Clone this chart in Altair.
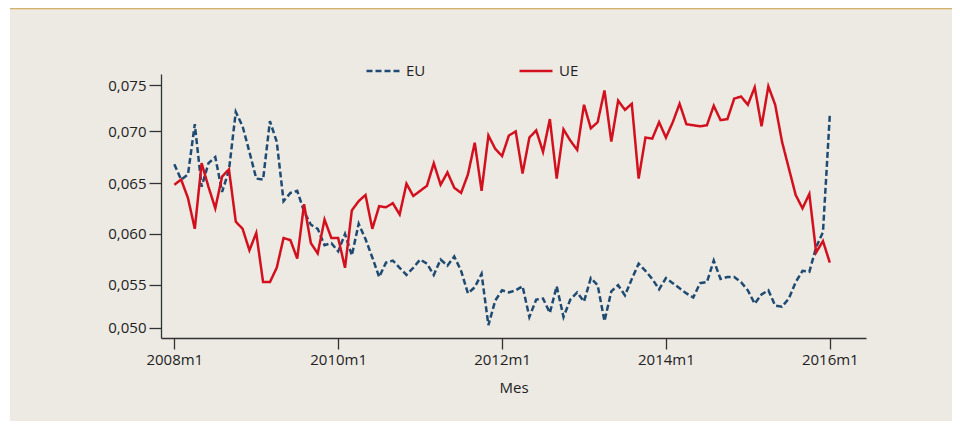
import altair as alt
import pandas as pd

# Monthly series, 2008m1 .. 2016m1 (97 months)
eu = [0.0668, 0.0653, 0.0658, 0.0707, 0.0646, 0.0669, 0.0675, 0.0641, 0.0662, 0.0719,
      0.0705, 0.0680, 0.0654, 0.0653, 0.0710, 0.0690, 0.0632, 0.0640, 0.0642, 0.0622,
      0.0609, 0.0605, 0.0589, 0.0591, 0.0583, 0.0600, 0.0579, 0.0610, 0.0595, 0.0577,
      0.0558, 0.0572, 0.0574, 0.0567, 0.0560, 0.0567, 0.0575, 0.0571, 0.0560, 0.0575,
      0.0569, 0.0578, 0.0564, 0.0542, 0.0548, 0.0561, 0.0511, 0.0535, 0.0545, 0.0543,
      0.0545, 0.0549, 0.0519, 0.0536, 0.0537, 0.0523, 0.0549, 0.0519, 0.0536, 0.0543,
      0.0534, 0.0557, 0.0550, 0.0515, 0.0544, 0.0550, 0.0540, 0.0556, 0.0571, 0.0564,
      0.0556, 0.0546, 0.0557, 0.0552, 0.0547, 0.0542, 0.0538, 0.0552, 0.0553, 0.0574,
      0.0556, 0.0558, 0.0558, 0.0553, 0.0545, 0.0532, 0.0541, 0.0545, 0.0530, 0.0529,
      0.0537, 0.0553, 0.0564, 0.0563, 0.0587, 0.0602, 0.0716]

ue = [0.0648, 0.0653, 0.0635, 0.0605, 0.0669, 0.0646, 0.0625, 0.0656, 0.0663, 0.0612,
      0.0605, 0.0584, 0.0601, 0.0553, 0.0553, 0.0567, 0.0596, 0.0594, 0.0576, 0.0629,
      0.0591, 0.0581, 0.0614, 0.0596, 0.0596, 0.0567, 0.0623, 0.0632, 0.0638, 0.0605,
      0.0627, 0.0626, 0.0630, 0.0619, 0.0649, 0.0637, 0.0642, 0.0647, 0.0669, 0.0648,
      0.0660, 0.0645, 0.0640, 0.0658, 0.0689, 0.0642, 0.0696, 0.0683, 0.0676, 0.0696,
      0.0700, 0.0659, 0.0694, 0.0701, 0.0680, 0.0712, 0.0654, 0.0702, 0.0691, 0.0682,
      0.0726, 0.0703, 0.0709, 0.0740, 0.0690, 0.0730, 0.0721, 0.0727, 0.0654, 0.0694,
      0.0693, 0.0709, 0.0694, 0.0709, 0.0727, 0.0707, 0.0706, 0.0705, 0.0706, 0.0725,
      0.0711, 0.0712, 0.0732, 0.0734, 0.0726, 0.0743, 0.0705, 0.0744, 0.0726, 0.0690,
      0.0664, 0.0638, 0.0625, 0.0639, 0.0582, 0.0593, 0.0572]

series_names = ["EU", "UE"]
x_tick_months = [0, 24, 48, 72, 96]
y_tick_values = [0.05086, 0.05502, 0.0600, 0.06494, 0.07004, 0.07452]

BLUE = "#1f4b73"
RED = "#d3101d"
BEIGE = "#edeae4"
GOLD = "#d2b16e"
FONT = "Open Sans"

rows = []
for i, v in enumerate(eu):
    rows.append({"t": i, "v": v, "serie": "EU"})
for i, v in enumerate(ue):
    rows.append({"t": i, "v": v, "serie": "UE"})
df = pd.DataFrame(rows)

W, H = 705, 264
PL, PT, PR, PB = 153, 66, 86, 83

leg = alt.Legend(
    title=None, orient="none", legendX=204, legendY=-21, direction="horizontal",
    symbolType="stroke", symbolSize=1089, symbolStrokeWidth=2.5,
    labelFont=FONT, labelFontSize=15, labelColor="#222", labelOffset=5,
    columnPadding=88, zindex=2,
)

lines = alt.Chart(df).mark_line(strokeWidth=2.5).encode(
    x=alt.X("t:Q",
            scale=alt.Scale(domain=[-1.95, 101.3], nice=False, zero=False),
            axis=alt.Axis(values=x_tick_months, title="Mes", zindex=2,
                          labelExpr="(2008 + datum.value/12) + 'm1'",
                          tickSize=11, labelPadding=3, titlePadding=13, grid=False)),
    y=alt.Y("v:Q",
            scale=alt.Scale(domain=[0.04985, 0.0756], nice=False, zero=False),
            axis=alt.Axis(values=y_tick_values, title=None, grid=False, zindex=2,
                          labelExpr="replace(format(round(datum.value*200)/200, '.3f'), '.', ',')",
                          tickSize=12, labelPadding=3)),
    color=alt.Color("serie:N", scale=alt.Scale(domain=series_names, range=[BLUE, RED]), legend=leg),
    strokeDash=alt.StrokeDash("serie:N", scale=alt.Scale(domain=series_names, range=[[6, 3], [1, 0]]), legend=leg),
    order="t:Q",
)

bg = alt.Chart(pd.DataFrame({"a": [0]})).mark_rect(color=BEIGE).encode(
    x=alt.value(-(PL - 2)), x2=alt.value(W + PR),
    y=alt.value(-(PT - 2)), y2=alt.value(H + PB),
)
gold = alt.Chart(pd.DataFrame({"a": [0]})).mark_rule(color=GOLD, strokeWidth=1.5).encode(
    x=alt.value(-(PL - 2)), x2=alt.value(W + PR),
    y=alt.value(-PT + 0.8),
)

chart = alt.layer(bg, gold, lines).properties(
    width=W, height=H,
    autosize=alt.AutoSizeParams(type="none"),
    padding={"left": PL, "top": PT, "right": PR, "bottom": PB},
    background="white",
).configure_view(stroke=None).configure_axis(
    domainColor="#333", domainWidth=1.3, tickColor="#333", tickWidth=1.3,
    labelFont=FONT, labelFontSize=15, labelColor="#222",
    titleFont=FONT, titleFontSize=15, titleColor="#222", titleFontWeight="normal",
)

chart.save("out.html", embed_options={"renderer": "svg", "actions": False})
